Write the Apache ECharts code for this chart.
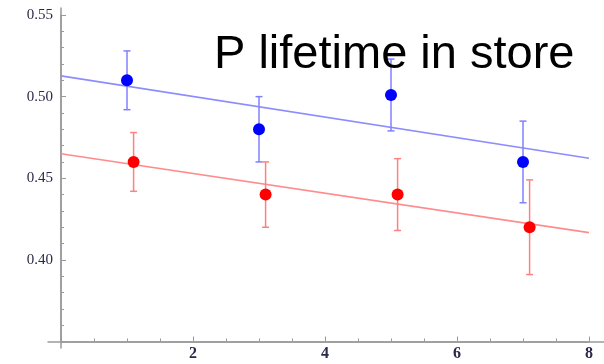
<!DOCTYPE html>
<html>
<head>
<meta charset="utf-8">
<script src="https://cdn.jsdelivr.net/npm/echarts@6/dist/echarts.min.js"></script>
<style>html,body{margin:0;padding:0;background:#fff}#c{width:604px;height:364px}</style>
</head>
<body>
<div id="c"></div>
<script>
var titleText = 'P lifetime in store';
var blueX = [1.0, 3.0, 5.0, 7.0];
var blueY = [0.510, 0.480, 0.501, 0.460];
var blueErr = [0.018, 0.020, 0.022, 0.025];
var redX = [1.1, 3.1, 5.1, 7.1];
var redY = [0.460, 0.440, 0.440, 0.420];
var redErr = [0.018, 0.020, 0.022, 0.029];
var blueFit = [[0, 0.5127], [8, 0.4623]];
var redFit = [[0, 0.4650], [8, 0.4167]];
var xTicks = [2, 4, 6, 8];
var yTicks = [0.40, 0.45, 0.50, 0.55];

function pts(xs, ys) { return xs.map(function (x, i) { return [x, ys[i]]; }); }
function errs(xs, ys, es) { return xs.map(function (x, i) { return [x, ys[i] - es[i], ys[i] + es[i]]; }); }
function errItem(color) {
  return function (params, api) {
    var lo = api.coord([api.value(0), api.value(1)]);
    var hi = api.coord([api.value(0), api.value(2)]);
    var w = 3.5;
    var st = { stroke: color, lineWidth: 1.5 };
    return { type: 'group', children: [
      { type: 'line', shape: { x1: lo[0], y1: lo[1], x2: hi[0], y2: hi[1] }, style: st },
      { type: 'line', shape: { x1: lo[0] - w, y1: lo[1], x2: lo[0] + w, y2: lo[1] }, style: st },
      { type: 'line', shape: { x1: hi[0] - w, y1: hi[1], x2: hi[0] + w, y2: hi[1] }, style: st }
    ] };
  };
}
var axisCol = '#9a9a9a';
var labCol = '#2a2a4a';
var serif = "'Liberation Serif', 'DejaVu Serif', serif";
var chart = echarts.init(document.getElementById('c'));
chart.setOption({
  animation: false,
  backgroundColor: '#fff',
  title: { text: titleText, left: 209, top: 27, textStyle: { fontFamily: "'Liberation Sans', Arial, sans-serif", fontSize: 47, fontWeight: 'normal', color: '#000' } },
  grid: [
    { left: 61, right: 15, top: 15, bottom: 22.5 },
    { left: 48, right: 0, top: 8, bottom: 22.5 },
    { left: 61, width: 10, top: 8, bottom: 16 }
  ],
  xAxis: [
    { type: 'value', gridIndex: 0, min: 0, max: 8, interval: 2,
      axisLine: { show: true, onZero: false, lineStyle: { color: axisCol, width: 1.5 } },
      axisTick: { show: true, inside: true, length: 5, lineStyle: { color: axisCol } },
      minorTick: { show: true, splitNumber: 4, length: 3, lineStyle: { color: axisCol } },
      splitLine: { show: false },
      axisLabel: { margin: 4, fontFamily: serif, fontSize: 16, fontWeight: 'bold', color: labCol,
        formatter: function (v) { return xTicks.indexOf(v) >= 0 ? String(v) : ''; } } },
    { type: 'value', gridIndex: 1, min: 0, max: 1,
      axisLine: { show: true, onZero: false, lineStyle: { color: axisCol, width: 1.5 } },
      axisTick: { show: false }, axisLabel: { show: false }, splitLine: { show: false } },
    { type: 'value', gridIndex: 2, show: false, min: 0, max: 1 }
  ],
  yAxis: [
    { type: 'value', gridIndex: 0, min: 0.35, max: 0.55, interval: 0.05,
      axisLine: { show: true, onZero: false, lineStyle: { color: axisCol, width: 1.5 } },
      axisTick: { show: true, inside: true, length: 5, lineStyle: { color: axisCol } },
      minorTick: { show: true, splitNumber: 5, length: 3, lineStyle: { color: axisCol } },
      splitLine: { show: false },
      axisLabel: { margin: 8, fontFamily: serif, fontSize: 15, color: labCol,
        formatter: function (v) {
          for (var i = 0; i < yTicks.length; i++) { if (Math.abs(yTicks[i] - v) < 1e-6) return yTicks[i].toFixed(2); }
          return '';
        } } },
    { type: 'value', gridIndex: 1, show: false, min: 0, max: 1 },
    { type: 'value', gridIndex: 2, min: 0, max: 1,
      axisLine: { show: true, onZero: false, lineStyle: { color: axisCol, width: 1.5 } },
      axisTick: { show: false }, axisLabel: { show: false }, splitLine: { show: false } }
  ],
  series: [
    { type: 'line', xAxisIndex: 0, yAxisIndex: 0, data: blueFit, showSymbol: false, symbol: 'none',
      lineStyle: { color: '#8c8cff', width: 1.6 }, z: 2 },
    { type: 'line', xAxisIndex: 0, yAxisIndex: 0, data: redFit, showSymbol: false, symbol: 'none',
      lineStyle: { color: '#ff8c8c', width: 1.6 }, z: 2 },
    { type: 'custom', xAxisIndex: 0, yAxisIndex: 0, data: errs(blueX, blueY, blueErr), renderItem: errItem('#8080ff'), z: 3 },
    { type: 'custom', xAxisIndex: 0, yAxisIndex: 0, data: errs(redX, redY, redErr), renderItem: errItem('#ff8080'), z: 3 },
    { type: 'scatter', xAxisIndex: 0, yAxisIndex: 0, data: pts(blueX, blueY), symbolSize: 12,
      itemStyle: { color: '#0000ff', opacity: 1 }, z: 4 },
    { type: 'scatter', xAxisIndex: 0, yAxisIndex: 0, data: pts(redX, redY), symbolSize: 12,
      itemStyle: { color: '#ff0000', opacity: 1 }, z: 4 }
  ]
});
</script>
</body>
</html>
